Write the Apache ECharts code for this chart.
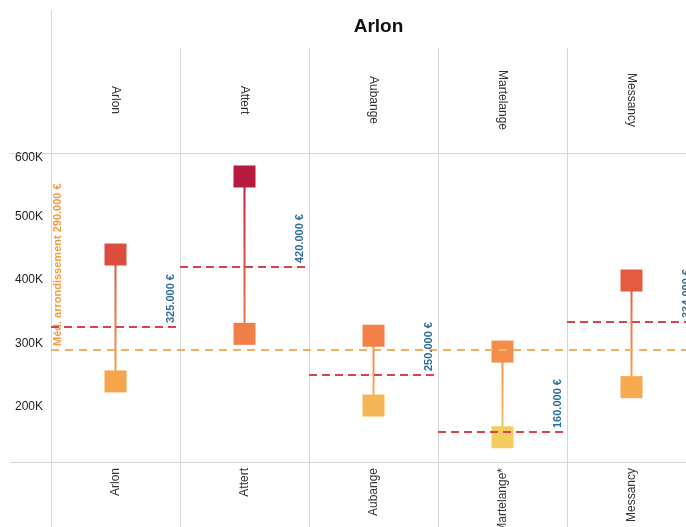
<!DOCTYPE html>
<html>
<head>
<meta charset="utf-8">
<script src="https://cdn.jsdelivr.net/npm/echarts@6/dist/echarts.min.js"></script>
<style>
  html, body { margin: 0; padding: 0; background: #fff; }
  #chart { width: 686px; height: 527px; }
</style>
</head>
<body>
<div id="chart"></div>
<script>
// Communes of the Arlon district: price range (low / high) and median per commune
const communes = ['Arlon', 'Attert', 'Aubange', 'Martelange', 'Messancy'];
const footerLabels = ['Arlon', 'Attert', 'Aubange', 'Martelange*', 'Messancy'];
const priceLow = [240000, 315000, 202000, 152000, 231000];
const priceHigh = [440000, 563000, 312000, 287000, 399000];
const communeMedian = [325000, 420000, 250000, 160000, 334000];
const districtMedian = 290000;
const yTicks = [200000, 300000, 400000, 500000, 600000];

const FONT = '"Liberation Sans", Arial, sans-serif';
const GRID = { left: 51, top: 153, width: 645, height: 309 };
const LINE_GREY = '#d6d6d6';

// Sequential colour scale (yellow -> orange -> crimson) driven by price
const colorStops = [
  [150000, [244, 205, 95]],
  [250000, [247, 160, 75]],
  [350000, [239, 108, 69]],
  [450000, [217, 74, 62]],
  [570000, [181, 23, 63]]
];
function priceColor(v) {
  if (v <= colorStops[0][0]) return 'rgb(' + colorStops[0][1].join(',') + ')';
  for (let i = 1; i < colorStops.length; i++) {
    const [v1, c1] = colorStops[i];
    const [v0, c0] = colorStops[i - 1];
    if (v <= v1) {
      const t = (v - v0) / (v1 - v0);
      const c = c0.map((x, k) => Math.round(x + (c1[k] - x) * t));
      return 'rgb(' + c.join(',') + ')';
    }
  }
  return 'rgb(' + colorStops[colorStops.length - 1][1].join(',') + ')';
}

function euro(v) {
  return String(v).replace(/\B(?=(\d{3})+(?!\d))/g, '.') + ' €';
}

const dumbbellData = communes.map((c, i) => [i, priceLow[i], priceHigh[i]]);
const medianData = communes.map((c, i) => [i, communeMedian[i]]);

const SQUARE = 22;
const yMax = yTicks[yTicks.length - 1];

const chart = echarts.init(document.getElementById('chart'), null, { renderer: 'canvas' });

chart.setOption({
  animation: false,
  backgroundColor: '#ffffff',
  title: {
    text: 'Arlon',
    left: GRID.left + GRID.width / 2,
    textAlign: 'center',
    top: 12,
    textStyle: { fontFamily: FONT, fontSize: 19, fontWeight: 'bold', color: '#111' }
  },
  grid: Object.assign({ containLabel: false, outerBoundsMode: 'none' }, GRID),
  xAxis: [
    {
      type: 'category',
      data: footerLabels,
      position: 'bottom',
      boundaryGap: true,
      axisLine: { show: false },
      axisTick: { show: true, interval: 0, length: 70, lineStyle: { color: LINE_GREY } },
      splitLine: { show: true, interval: 0, lineStyle: { color: LINE_GREY } },
      axisLabel: {
        interval: 0, rotate: 90, margin: 6,
        fontFamily: FONT, fontSize: 12, color: '#333'
      }
    },
    {
      type: 'category',
      data: communes,
      position: 'top',
      boundaryGap: true,
      axisLine: { show: false },
      axisTick: { show: true, interval: 0, length: 105, lineStyle: { color: LINE_GREY } },
      splitLine: { show: false },
      axisLabel: {
        interval: 0, rotate: 90, margin: 53, align: 'center', verticalAlign: 'middle',
        fontFamily: FONT, fontSize: 12, color: '#333'
      }
    }
  ],
  yAxis: {
    type: 'value',
    min: 113000,
    max: yMax,
    axisLine: { show: false },
    axisTick: { show: false },
    splitLine: { show: false },
    axisLabel: {
      showMinLabel: false,
      margin: 8,
      fontFamily: FONT, fontSize: 12, color: '#222',
      formatter: function (v) {
        if (yTicks.indexOf(v) < 0) return '';
        const txt = (v / 1000) + 'K';
        // the top label sits just below the pane border
        return v === yMax ? '{top|' + txt + '}' : txt;
      },
      rich: {
        top: { fontFamily: FONT, fontSize: 12, color: '#222', padding: [10, 0, 0, 0] }
      }
    }
  },
  graphic: [
    // pane borders
    { type: 'line', silent: true, shape: { x1: GRID.left + 0.5, y1: 10, x2: GRID.left + 0.5, y2: 527 }, style: { stroke: LINE_GREY, lineWidth: 1 } },
    { type: 'line', silent: true, shape: { x1: 10, y1: GRID.top + 0.5, x2: 686, y2: GRID.top + 0.5 }, style: { stroke: LINE_GREY, lineWidth: 1 } },
    { type: 'line', silent: true, shape: { x1: 10, y1: GRID.top + GRID.height + 0.5, x2: 686, y2: GRID.top + GRID.height + 0.5 }, style: { stroke: LINE_GREY, lineWidth: 1 } }
  ],
  series: [
    {
      // low/high squares joined by a stem
      type: 'custom',
      name: 'range',
      data: dumbbellData,
      z: 2,
      renderItem: function (params, api) {
        const i = api.value(0);
        const lo = api.value(1);
        const hi = api.value(2);
        const pLo = api.coord([i, lo]);
        const pHi = api.coord([i, hi]);
        const cLo = priceColor(lo);
        const cHi = priceColor(hi);
        return {
          type: 'group',
          children: [
            {
              type: 'line',
              shape: { x1: pLo[0], y1: pLo[1], x2: pHi[0], y2: pHi[1] },
              style: {
                lineWidth: 2,
                stroke: new echarts.graphic.LinearGradient(0, 0, 0, 1, [
                  { offset: 0, color: cHi },
                  { offset: 1, color: cLo }
                ])
              }
            },
            {
              type: 'rect',
              shape: { x: pLo[0] - SQUARE / 2, y: pLo[1] - SQUARE / 2, width: SQUARE, height: SQUARE },
              style: { fill: cLo }
            },
            {
              type: 'rect',
              shape: { x: pHi[0] - SQUARE / 2, y: pHi[1] - SQUARE / 2, width: SQUARE, height: SQUARE },
              style: { fill: cHi }
            }
          ]
        };
      }
    },
    {
      // district median across all communes
      type: 'custom',
      name: 'district median',
      data: [[0, districtMedian]],
      z: 3,
      renderItem: function (params, api) {
        const cs = params.coordSys;
        const y = Math.round(api.coord([0, api.value(1)])[1]);
        return {
          type: 'group',
          children: [
            {
              type: 'line',
              shape: { x1: cs.x, y1: y, x2: cs.x + cs.width, y2: y },
              style: { stroke: '#f0b163', lineWidth: 2, lineDash: [8, 6] }
            },
            {
              type: 'text',
              x: cs.x + 7,
              y: y - 4,
              rotation: Math.PI / 2,
              style: {
                text: 'Méd. arrondissement ' + euro(api.value(1)),
                fontFamily: FONT, fontSize: 11, fontWeight: 'bold',
                fill: '#f39c3e', align: 'left', verticalAlign: 'middle'
              }
            }
          ]
        };
      }
    },
    {
      // per-commune median
      type: 'custom',
      name: 'commune median',
      data: medianData,
      z: 4,
      renderItem: function (params, api) {
        const i = api.value(0);
        const v = api.value(1);
        const p = api.coord([i, v]);
        const bw = api.size([1, 0])[0];
        const y = Math.round(p[1]);
        const xR = p[0] + bw / 2;
        return {
          type: 'group',
          children: [
            {
              type: 'line',
              shape: { x1: p[0] - bw / 2, y1: y, x2: xR, y2: y },
              style: { stroke: '#d9434f', lineWidth: 2, lineDash: [8, 5] }
            },
            {
              type: 'text',
              x: xR - 9,
              y: y - 4,
              rotation: Math.PI / 2,
              style: {
                text: euro(v),
                fontFamily: FONT, fontSize: 11, fontWeight: 'bold',
                fill: '#2b6e97', align: 'left', verticalAlign: 'middle'
              }
            }
          ]
        };
      }
    }
  ]
});
</script>
</body>
</html>
